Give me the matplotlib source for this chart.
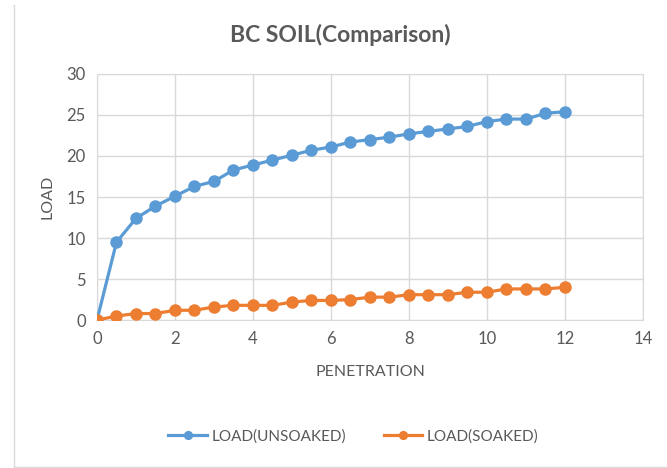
import matplotlib.pyplot as plt
from matplotlib.lines import Line2D

plt.rcParams['font.family'] = ['Lato', 'DejaVu Sans']

penetration = [0, 0.5, 1, 1.5, 2, 2.5, 3, 3.5, 4, 4.5, 5, 5.5, 6,
               6.5, 7, 7.5, 8, 8.5, 9, 9.5, 10, 10.5, 11, 11.5, 12]
load_unsoaked = [0, 9.5, 12.4, 13.9, 15.1, 16.3, 16.9, 18.3, 18.9, 19.5, 20.1, 20.7, 21.1,
                 21.7, 22.0, 22.3, 22.7, 23.0, 23.3, 23.6, 24.2, 24.5, 24.5, 25.2, 25.4]
load_soaked = [0, 0.5, 0.8, 0.8, 1.2, 1.2, 1.6, 1.8, 1.8, 1.8, 2.2, 2.4, 2.4,
               2.5, 2.8, 2.8, 3.1, 3.1, 3.1, 3.4, 3.4, 3.8, 3.8, 3.8, 4.0]

txt = '#595959'
grid_c = '#d9d9d9'

fig = plt.figure(figsize=(6.67, 4.68), dpi=100)
ax = fig.add_axes([0.1454, 0.316, 0.8186, 0.526])

ax.plot(penetration, load_unsoaked, marker='o', color='#5b9bd5', lw=2.3, ms=8,
        label='LOAD(UNSOAKED)', zorder=3)
ax.plot(penetration, load_soaked, marker='o', color='#ed7d31', lw=2.3, ms=8,
        label='LOAD(SOAKED)', zorder=3)

ax.set_xlim(0, 14)
ax.set_ylim(0, 30)
ax.set_xticks(range(0, 15, 2))
ax.set_yticks(range(0, 31, 5))
ax.grid(True, color=grid_c, lw=1)
ax.set_axisbelow(True)
for s in ax.spines.values():
    s.set_color(grid_c)
ax.tick_params(length=0, labelsize=12, colors=txt, pad=8)

ax.set_xlabel('PENETRATION', color=txt, fontsize=11.5, labelpad=13)
ax.set_ylabel('LOAD', color=txt, fontsize=11.5, labelpad=9)

fig.text(0.51, 0.925, 'BC SOIL(Comparison)', ha='center', va='center',
         fontsize=16.5, fontweight='bold', color=txt)

ax.legend(loc='center', bbox_to_anchor=(0.53, 0.067), bbox_transform=fig.transFigure,
          ncol=2, frameon=False, fontsize=11, labelcolor=txt, columnspacing=2.5,
          handlelength=2.5, handletextpad=0.3, markerscale=0.7)

# outer chart border (left and bottom edges visible)
fig.add_artist(Line2D([0.021, 0.021], [0.003, 0.99], transform=fig.transFigure,
                      color=grid_c, lw=1))
fig.add_artist(Line2D([0.021, 1.0], [0.003, 0.003], transform=fig.transFigure,
                      color=grid_c, lw=1))

plt.savefig('out.png')
